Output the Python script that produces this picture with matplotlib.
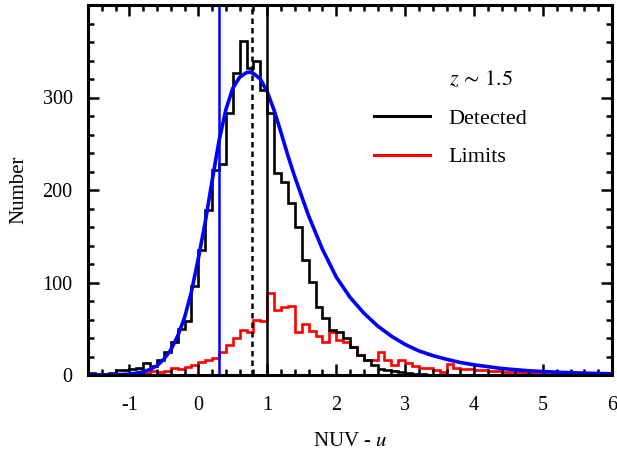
import numpy as np
import matplotlib
matplotlib.use("Agg")
import matplotlib.pyplot as plt
from matplotlib.lines import Line2D

plt.rcParams["font.family"] = ["Liberation Serif", "DejaVu Serif"]
plt.rcParams["mathtext.fontset"] = "stix"

# =========================
# Data
# =========================
BIN_START = -1.6
BIN_WIDTH = 0.1

# NUV - u histogram, detected sources (bins of 0.1 from -1.6)
detected = [2, 1, 1, 2, 5, 5, 6, 8, 13, 10,
            16, 25, 36, 50, 58, 96, 135, 178, 222, 228,
            283, 327, 361, 332, 340, 308, 283, 218, 209, 186,
            160, 124, 101, 74, 62, 49, 46, 40, 30, 22,
            16, 11, 7, 5, 4, 3, 2, 1, 1, 0,
            0, 0, 0, 0, 0, 0, 0, 0, 0, 0,
            0, 0, 0, 0, 0, 0, 0, 0, 0, 0,
            0, 0, 0, 0, 0, 0]

# upper limits
limits = [0, 0, 0, 0, 0, 0, 0, 1, 2, 4,
          3, 4, 8, 6, 9, 11, 14, 16, 18, 25,
          32, 40, 49, 47, 59, 58, 89, 70, 74, 75,
          47, 55, 48, 42, 36, 46, 38, 36, 30, 22,
          16, 16, 25, 16, 11, 16, 13, 10, 8, 8,
          5, 3, 12, 8, 7, 7, 5, 5, 4, 4,
          3, 3, 3, 2, 2, 1, 1, 1, 1, 1,
          0, 0, 0, 0, 0, 0]

# fitted distribution
fit_x = [-1.6, -1.2, -1.0, -0.9, -0.8, -0.7, -0.6, -0.5, -0.4, -0.3,
         -0.2, -0.1, 0.0, 0.1, 0.2, 0.3, 0.4, 0.5, 0.6, 0.7,
         0.75, 0.8, 0.9, 1.0, 1.1, 1.2, 1.3, 1.4, 1.5, 1.6,
         1.8, 2.0, 2.2, 2.4, 2.6, 2.8, 3.0, 3.2, 3.4, 3.6,
         3.8, 4.0, 4.4, 4.8, 5.2, 5.6, 6.0]
fit_y = [0, 0.3, 1, 2, 3.5, 6, 10, 17, 27, 42,
         62, 90, 126, 165, 210, 253, 287, 310, 322, 327,
         327.5, 326, 320, 306, 286, 262, 237, 214, 193, 172,
         136, 106, 84, 67, 53, 42, 33, 26, 21, 17,
         13.5, 11, 7, 4.5, 3, 2, 1.3]

mean_detected = 1.0     # solid black
peak_fit      = 0.78    # dotted black
blue_cut      = 0.3     # blue vertical

assert len(detected) == len(limits)
edges = BIN_START + BIN_WIDTH * np.arange(len(detected) + 1)

# =========================
# Plot
# =========================
fig = plt.figure(figsize=(6.17, 4.58), dpi=100)
ax = fig.add_axes([88 / 617, 83 / 458, 524 / 617, 370 / 458])

ax.stairs(limits, edges, color="red", lw=1.9)
ax.stairs(detected, edges, color="black", lw=1.9)
ax.plot(fit_x, fit_y, color="blue", lw=2.6)

ax.axvline(blue_cut, color="blue", lw=1.8)
ax.axvline(peak_fit, color="black", lw=1.8, ls=(0, (2.2, 1.6)))
ax.axvline(mean_detected, color="black", lw=1.8)

ax.set_xlim(-1.6, 6)
ax.set_ylim(0, 400)
ax.set_xticks(range(-1, 7))
ax.set_xticklabels([str(v) for v in range(-1, 7)])
ax.set_yticks([0, 100, 200, 300])
ax.set_xticks(np.arange(-1.6, 6.01, 0.2), minor=True)
ax.set_yticks(np.arange(0, 401, 20), minor=True)

ax.tick_params(which="both", direction="in", top=True, right=True,
               labelsize=14.5, width=1.8)
ax.tick_params(which="major", length=8)
ax.tick_params(which="minor", length=4)
ax.tick_params(axis="x", pad=15)
ax.tick_params(axis="y", pad=11)
for sp in ax.spines.values():
    sp.set_linewidth(2.2)

ax.set_xlabel("NUV - $u$", fontsize=15, labelpad=12)
ax.set_ylabel("Number", fontsize=15, labelpad=10)

handles = [Line2D([], [], color="none"),
           Line2D([], [], color="black", lw=2.2),
           Line2D([], [], color="red", lw=2.2)]
labels = [r"$z\,\sim\,1.5$", "Detected", "Limits"]
ax.legend(handles, labels, loc="upper left", bbox_to_anchor=(0.546, 0.826),
          frameon=False, fontsize=16, handlelength=2.5, handletextpad=0.85,
          labelspacing=0.82, borderpad=0, borderaxespad=0)

fig.savefig("out.png", dpi=100)
